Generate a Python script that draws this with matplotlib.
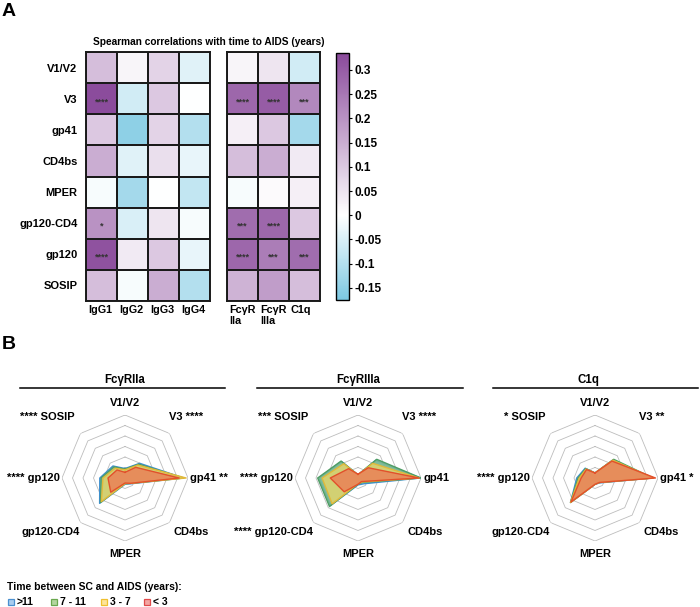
import numpy as np
import matplotlib
matplotlib.use("Agg")
import matplotlib.pyplot as plt
from matplotlib.colors import LinearSegmentedColormap, Normalize
from matplotlib.lines import Line2D

plt.rcParams['font.family'] = ['Liberation Sans', 'DejaVu Sans']
plt.rcParams['font.weight'] = 'bold'

# ---------------- data ----------------
antigens = ['V1/V2', 'V3', 'gp41', 'CD4bs', 'MPER', 'gp120-CD4', 'gp120', 'SOSIP']
igg_cols = ['IgG1', 'IgG2', 'IgG3', 'IgG4']
fc_cols = ['FcγR\nIIa', 'FcγR\nIIIa', 'C1q']

igg_rho = [
    [0.12, 0.02, 0.08, -0.04],
    [0.33, -0.06, 0.10, 0.00],
    [0.10, -0.15, 0.08, -0.10],
    [0.15, -0.04, 0.06, -0.03],
    [-0.01, -0.12, 0.00, -0.08],
    [0.20, -0.05, 0.05, -0.01],
    [0.32, 0.04, 0.10, -0.03],
    [0.12, -0.01, 0.15, -0.10],
]
fc_rho = [
    [0.02, 0.05, -0.06],
    [0.28, 0.30, 0.22],
    [0.03, 0.10, -0.12],
    [0.12, 0.15, 0.04],
    [-0.01, 0.01, 0.03],
    [0.27, 0.28, 0.10],
    [0.28, 0.24, 0.27],
    [0.14, 0.18, 0.12],
]
igg_sig = [
    ['', '', '', ''], ['****', '', '', ''], ['', '', '', ''], ['', '', '', ''],
    ['', '', '', ''], ['*', '', '', ''], ['****', '', '', ''], ['', '', '', ''],
]
fc_sig = [
    ['', '', ''], ['****', '****', '***'], ['', '', ''], ['', '', ''],
    ['', '', ''], ['***', '****', ''], ['****', '***', '***'], ['', '', ''],
]
cbar_ticks = [0.3, 0.25, 0.2, 0.15, 0.1, 0.05, 0, -0.05, -0.1, -0.15]
vmin, vmax = -0.175, 0.335

groups = ['>11', '7 - 11', '3 - 7', '< 3']
radar_titles = ['FcγRIIa', 'FcγRIIIa', 'C1q']
fcr2a_vals = [
    [0.15, 0.33, 0.93, 0.13, 0.10, 0.57, 0.40, 0.27],
    [0.14, 0.31, 0.93, 0.12, 0.09, 0.55, 0.38, 0.25],
    [0.13, 0.29, 0.97, 0.12, 0.09, 0.53, 0.35, 0.22],
    [0.09, 0.24, 0.86, 0.12, 0.08, 0.32, 0.27, 0.18],
]
fcr3a_vals = [
    [0.05, 0.40, 0.99, 0.13, 0.11, 0.62, 0.62, 0.37],
    [0.05, 0.42, 1.00, 0.10, 0.10, 0.64, 0.64, 0.38],
    [0.05, 0.33, 0.97, 0.09, 0.09, 0.58, 0.57, 0.32],
    [0.06, 0.23, 0.97, 0.08, 0.10, 0.31, 0.44, 0.21],
]
c1q_vals = [
    [0.08, 0.40, 0.90, 0.11, 0.10, 0.55, 0.29, 0.22],
    [0.08, 0.42, 0.92, 0.10, 0.10, 0.55, 0.27, 0.21],
    [0.08, 0.40, 0.93, 0.10, 0.10, 0.55, 0.25, 0.20],
    [0.08, 0.38, 0.96, 0.10, 0.10, 0.54, 0.22, 0.19],
]
radar_vals = [fcr2a_vals, fcr3a_vals, c1q_vals]
radar_sig = [
    ['', '****', '**', '', '', '', '****', '****'],
    ['', '****', '', '', '', '****', '****', '***'],
    ['', '**', '*', '', '', '', '****', '*'],
]

# ---------------- figure ----------------
W, H = 700, 607
fig = plt.figure(figsize=(W / 100, H / 100), dpi=100)


def ax_px(x0, y0, x1, y1, **kw):
    return fig.add_axes([x0 / W, 1 - y1 / H, (x1 - x0) / W, (y1 - y0) / H], **kw)


def fx(x):
    return x / W


def fy(y):
    return 1 - y / H


zero_pos = (0 - vmin) / (vmax - vmin)
cmap = LinearSegmentedColormap.from_list(
    'bw_purple', [(0, '#7cc8e2'), (zero_pos, '#ffffff'), (1, '#8a4a9b')])
norm = Normalize(vmin=vmin, vmax=vmax)

fig.text(fx(2), fy(3), 'A', fontsize=14, fontweight='bold', va='top', ha='left')
fig.text(fx(2), fy(336), 'B', fontsize=14, fontweight='bold', va='top', ha='left')
fig.text(fx(209), fy(42), 'Spearman correlations with time to AIDS (years)',
         fontsize=7.3, fontweight='bold', ha='center', va='center')


def heat(ax, data, sig, cols, show_rows):
    arr = np.array(data)
    ax.pcolormesh(arr, cmap=cmap, norm=norm, edgecolors='#1a1a1a', linewidth=1.1)
    ax.set_xlim(0, arr.shape[1])
    ax.set_ylim(arr.shape[0], 0)
    for i in range(arr.shape[0]):
        for j in range(arr.shape[1]):
            if sig[i][j]:
                ax.text(j + 0.5, i + 0.6, sig[i][j], ha='center', va='center',
                        fontsize=6.5, color='#333333')
    ax.set_xticks(np.arange(arr.shape[1]) + 0.06)
    ax.set_xticklabels(cols, fontsize=7.8, fontweight='bold', ha='left',
                       va='top', linespacing=1.05)
    ax.tick_params(axis='x', length=0, pad=3)
    if show_rows:
        ax.set_yticks(np.arange(arr.shape[0]) + 0.5)
        ax.set_yticklabels(antigens, fontsize=8, fontweight='bold')
        ax.tick_params(axis='y', length=0, pad=6)
    else:
        ax.set_yticks([])
    for s in ax.spines.values():
        s.set_linewidth(1.4)
        s.set_color('#1a1a1a')


ax1 = ax_px(86, 52, 210, 301)
heat(ax1, igg_rho, igg_sig, igg_cols, True)

ax2 = ax_px(227, 52, 320, 301)
heat(ax2, fc_rho, fc_sig, fc_cols, False)

cax = ax_px(336, 53, 349, 300)
sm = matplotlib.cm.ScalarMappable(norm=norm, cmap=cmap)
cb = fig.colorbar(sm, cax=cax, ticks=cbar_ticks)
cb.ax.set_yticklabels([('%g' % t) for t in cbar_ticks], fontsize=8.5, fontweight='bold')
cb.ax.tick_params(length=2.5, width=0.8, pad=1.5)
cb.outline.set_linewidth(1.0)

# ---------------- radar charts ----------------
fill_colors = ['#6fb1e0', '#7dbb86', '#e8d66a', '#ec7d55']
edge_colors = ['#3d8fcf', '#4f9d64', '#e2b93a', '#e2502b']
centers = [125, 358, 595]
cy = 478
R = 63
line_spans = [(20, 225), (257, 463), (493, 698)]
title_x = [125, 358, 588]

theta = np.arange(8) * 2 * np.pi / 8
theta_c = np.append(theta, theta[0])

label_offsets = [  # (dx, dy, ha)
    (0, -75, 'center'),
    (44, -61, 'left'),
    (65, 0, 'left'),
    (49, 54, 'left'),
    (0, 76, 'center'),
    (-45, 54, 'right'),
    (-65, 0, 'right'),
    (-50, -61, 'right'),
]

for k in range(3):
    cx = centers[k]
    ax = ax_px(cx - R, cy - R, cx + R, cy + R, projection='polar')
    ax.set_theta_zero_location('N')
    ax.set_theta_direction(-1)
    ax.set_ylim(0, 1)
    ax.grid(False)
    ax.set_xticks([])
    ax.set_yticks([])
    ax.spines['polar'].set_visible(False)
    ax.patch.set_alpha(0)
    for lev in np.arange(1, 7) / 6:
        ax.plot(theta_c, [lev] * 9, color='#bdbdbd', lw=0.6, zorder=1)
    for g in range(4):
        v = np.array(radar_vals[k][g])
        vc = np.append(v, v[0])
        ax.fill(theta_c, vc, color=fill_colors[g], alpha=0.8, zorder=2 + g, lw=0)
        ax.plot(theta_c, vc, color=edge_colors[g], lw=1.0, zorder=2 + g)
    # title and rule
    fig.text(fx(title_x[k]), fy(380), radar_titles[k], fontsize=8.3, fontweight='bold',
             ha='center', va='center')
    fig.add_artist(Line2D([fx(line_spans[k][0]), fx(line_spans[k][1])], [fy(388), fy(388)],
                          color='black', lw=1.1))
    for i, name in enumerate(antigens):
        dx, dy, ha = label_offsets[i]
        s = radar_sig[k][i]
        if s:
            if ha == 'right':
                txt = s + ' ' + name
            else:
                txt = name + ' ' + s
        else:
            txt = name
        fig.text(fx(cx + dx), fy(cy + dy), txt, fontsize=8, fontweight='bold',
                 ha=ha, va='center')

# ---------------- legend ----------------
fig.text(fx(7), fy(587), 'Time between SC and AIDS (years):', fontsize=7.5,
         fontweight='bold', ha='left', va='center')
leg_sq = [11, 54, 104, 147]
sq_fill = ['#a9cdef', '#b3d69f', '#fde49a', '#f3a6a3']
sq_edge = ['#4a90d0', '#6aa84f', '#f0c030', '#e04b4b']
for g in range(4):
    fig.add_artist(Line2D([fx(leg_sq[g])], [fy(602)], marker='s', markersize=4.5,
                          markerfacecolor=sq_fill[g], markeredgecolor=sq_edge[g],
                          markeredgewidth=0.9, linestyle='none'))
    fig.text(fx(leg_sq[g] + 6), fy(602), groups[g], fontsize=7.5, fontweight='bold',
             ha='left', va='center')

fig.savefig('out.png', dpi=100)
